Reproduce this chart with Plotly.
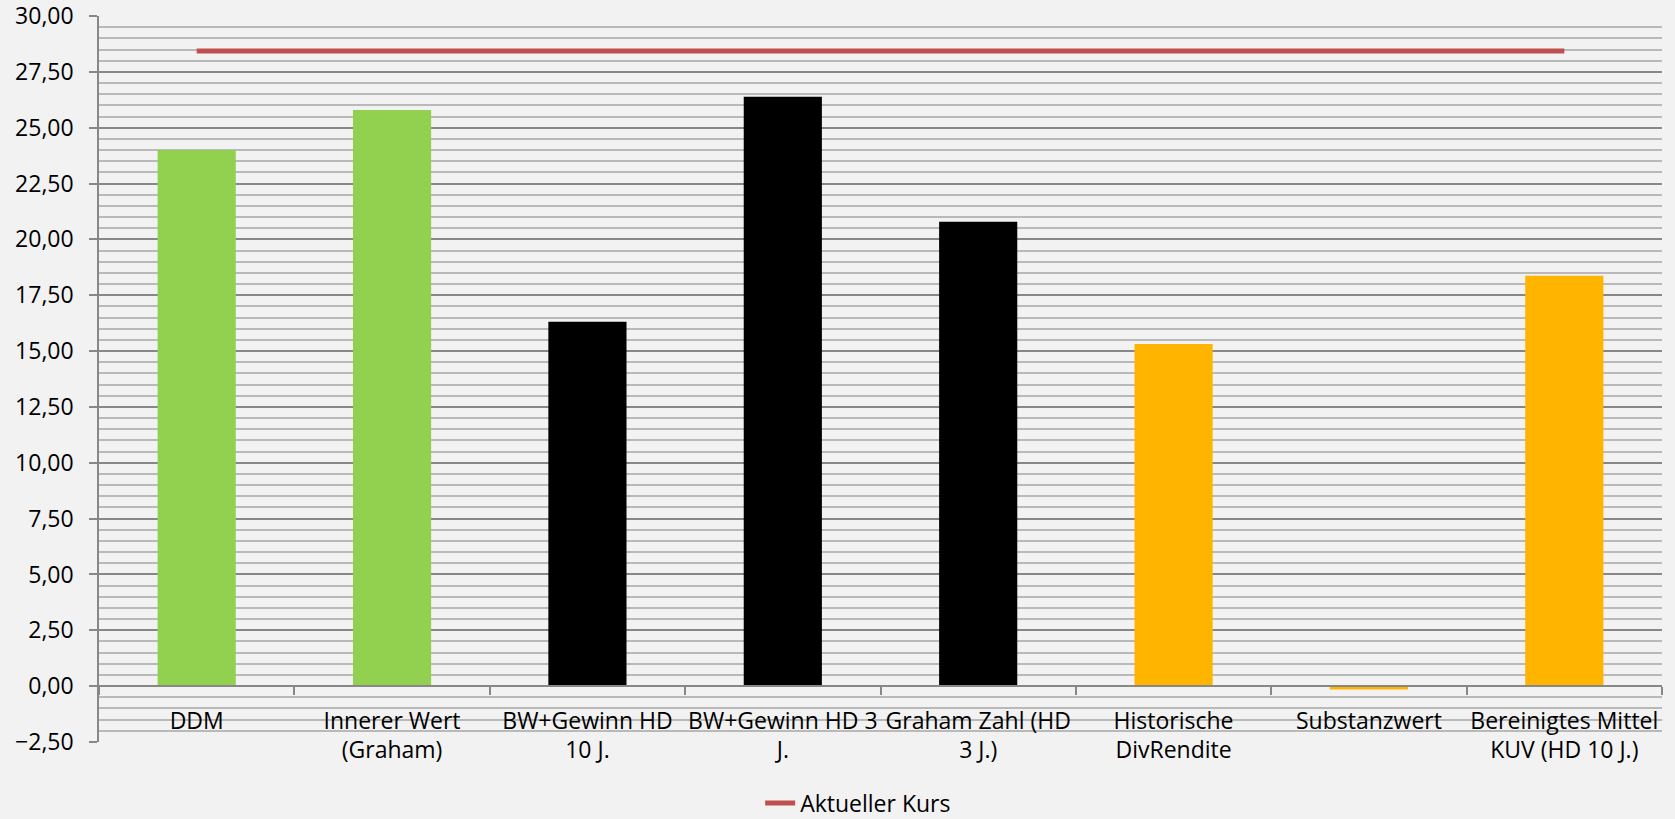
import plotly.graph_objects as go

categories = [
    "DDM",
    "Innerer Wert<br>(Graham)",
    "BW+Gewinn HD<br>10 J.",
    "BW+Gewinn HD 3<br>J.",
    "Graham Zahl (HD<br>3 J.)",
    "Historische<br>DivRendite",
    "Substanzwert",
    "Bereinigtes Mittel<br>KUV (HD 10 J.)",
]
werte = [24.00, 25.79, 16.31, 26.39, 20.79, 15.32, -0.15, 18.37]
bar_colors = ["#92d050", "#92d050", "#000000", "#000000", "#000000",
              "#ffb400", "#ffb400", "#ffb400"]
aktueller_kurs = [28.43] * len(categories)
line_name = "Aktueller Kurs"

FONT = "Open Sans"
FS = 23
GRID_MAJOR = "#878787"
GRID_MINOR = "#b9b9b9"

fig = go.Figure()
fig.add_trace(go.Bar(
    x=categories, y=werte, marker=dict(color=bar_colors, line=dict(width=0)),
    width=0.4, showlegend=False, name="Werte",
))
fig.add_trace(go.Scatter(
    x=categories, y=aktueller_kurs, mode="lines", name=line_name,
    line=dict(color="#c0504d", width=5),
))

ymin, ymax = -2.5, 30
fig.update_layout(
    width=1675, height=819,
    margin=dict(l=99, r=13, t=16, b=77, autoexpand=False),
    paper_bgcolor="#f2f2f2", plot_bgcolor="#f2f2f2",
    font=dict(family=FONT, size=FS, color="#000000"),
    separators=",.",
    bargap=0.6,
    showlegend=True,
    legend=dict(orientation="h", x=0.423, xanchor="left", y=-0.084, yanchor="middle",
                font=dict(size=FS), bgcolor="rgba(0,0,0,0)"),
    xaxis=dict(
        type="category", anchor="free", position=(0 - ymin) / (ymax - ymin),
        range=[-0.5, len(categories) - 0.5], automargin=False,
        showline=True, linecolor=GRID_MAJOR, linewidth=1.5,
        ticks="outside", tickson="boundaries", ticklen=8, tickcolor=GRID_MAJOR, tickwidth=1.5,
        showgrid=False, tickfont=dict(size=FS), ticklabelstandoff=14, tickangle=0,
        ticklabeloverflow="allow",
    ),
    yaxis=dict(
        range=[ymin, ymax], tickmode="linear", dtick=2.5, tick0=0, tickformat=".2f",
        automargin=False, ticklabeloverflow="allow",
        showline=True, linecolor=GRID_MAJOR, linewidth=1.5,
        ticks="outside", ticklen=8, tickcolor=GRID_MAJOR, tickwidth=1.5,
        showgrid=True, gridcolor=GRID_MAJOR, gridwidth=1.5,
        zeroline=False, tickfont=dict(size=FS), ticklabelstandoff=11,
        minor=dict(dtick=0.5, showgrid=True, gridcolor=GRID_MINOR, gridwidth=1.5, ticks=""),
    ),
)

fig.write_html("out.html")
